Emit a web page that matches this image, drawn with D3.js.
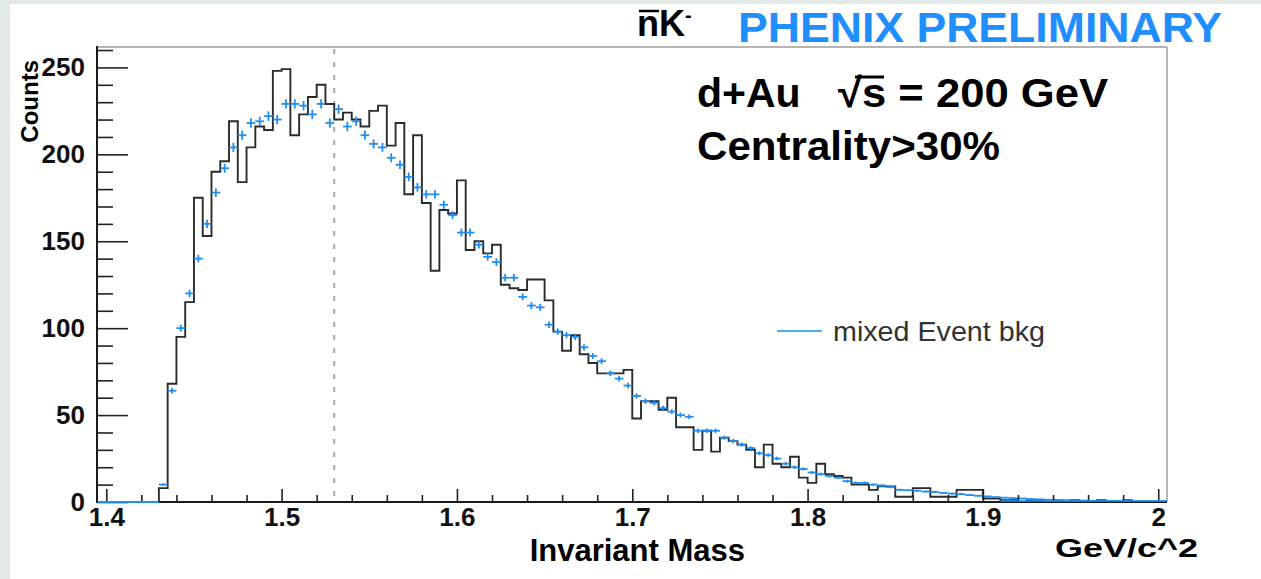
<!DOCTYPE html>
<html>
<head>
<meta charset="utf-8">
<script src="https://cdn.jsdelivr.net/npm/d3@7"></script>
<style>
  html, body { margin: 0; padding: 0; background: #fff; }
  svg { display: block; }
  text { font-family: "Liberation Sans", Arial, Helvetica, sans-serif; }
</style>
</head>
<body>
<script>
let width = 1261;
let height = 579;
let frame = {left: 97, right: 1167, top: 47, bottom: 502};

// histogram bins: 0.005 wide, first bin starts at 1.395
let binStart = 1.395;
let binWidth = 0.005;

// same-event counts (black histogram)
let signal = [
  0, 0, 0, 0, 0, 0, 0,
  8, 68, 95, 115, 175, 153, 190, 196, 219, 184,
  204, 216, 214, 248, 249, 211, 223, 233, 240, 229,
  220, 224, 220, 216, 225, 228, 205, 218, 177, 211,
  172, 133, 168, 166, 185, 145, 150, 143, 148, 125,
  123, 122, 128, 128, 116, 98, 87, 96, 85, 80,
  74, 74, 74, 76, 48, 58, 58, 53, 60, 43,
  43, 30, 41, 29, 37, 35, 33, 30, 20, 33,
  22, 20, 26, 14, 11, 22, 16, 15, 14, 10,
  10, 7, 9, 9, 3, 3, 8, 8, 3, 3,
  3, 7, 7, 7, 2, 2, 1, 1, 0, 1,
  1, 0, 1, 0, 1, 0, 0, 1, 0, 0,
  1, 0, 0, 0, 0
];

// mixed event background (blue points) and its errors
let bkg = [
  0, 0, 0, 0, 0, 0, 0,
  10, 64, 100, 120, 140, 160, 178, 192, 204, 211,
  218, 219, 222, 220, 229, 229, 228, 223, 229, 218,
  226, 216, 219, 211, 206, 204, 198, 194, 187, 181,
  177, 177, 171, 165, 155, 155, 148, 141, 138, 129,
  129, 118, 113, 112, 102, 98, 96, 95, 89, 84,
  81, 74, 71, 67, 61, 58, 57, 54, 52, 50,
  49, 41, 41, 41, 37, 35, 33, 31, 28, 27,
  25, 22, 20, 19, 17, 16, 15, 14, 12, 11,
  11, 10, 9.5, 8.6, 7, 6.8, 6.5, 6, 5.8, 5.2,
  4.8, 4.5, 4, 3.6, 3.2, 2.8, 2.5, 2.2, 2, 1.7,
  1.5, 1.3, 1.2, 1.0, 0.9, 0.8, 0.7, 0.6, 0.6, 0.5,
  0.5, 0.4, 0.4, 0.3, 0.3
];
let bkgErr = [
  0, 0, 0, 0, 0, 0, 0,
  0.7, 1.6, 2, 2.1, 2.2, 2.4, 2.5, 2.6, 2.6, 2.7,
  2.7, 2.7, 2.7, 2.7, 2.7, 2.7, 2.7, 2.7, 2.7, 2.7,
  2.7, 2.7, 2.7, 2.6, 2.6, 2.6, 2.6, 2.5, 2.5, 2.5,
  2.4, 2.4, 2.4, 2.3, 2.3, 2.3, 2.2, 2.2, 2.2, 2.1,
  2.1, 2, 2, 2, 1.9, 1.9, 1.8, 1.8, 1.8, 1.7,
  1.7, 1.6, 1.6, 1.6, 1.5, 1.5, 1.5, 1.4, 1.4, 1.4,
  1.4, 1.3, 1.3, 1.3, 1.2, 1.2, 1.2, 1.1, 1.1, 1.1,
  1, 1, 1, 0.9, 0.9, 0.9, 0.9, 0.8, 0.8, 0.8,
  0.8, 0.7, 0.7, 0.7, 0.6, 0.6, 0.6, 0.6, 0.6, 0.5,
  0.5, 0.5, 0.5, 0.4, 0.4, 0.4, 0.4, 0.3, 0.3, 0.3,
  0.3, 0.3, 0.3, 0.2, 0.2, 0.2, 0.2, 0.2, 0.2, 0.2,
  0.2, 0.1, 0.1, 0.1, 0.1
];

let xTicks = [1.4, 1.5, 1.6, 1.7, 1.8, 1.9, 2.0];
let xTickLabels = ["1.4", "1.5", "1.6", "1.7", "1.8", "1.9", "2"];
let yTicks = [0, 50, 100, 150, 200, 250];
let peakMass = 1.53;

let svg = d3.select("body").append("svg")
    .attr("width", width)
    .attr("height", height);

// grey page border seen on the left and top
svg.append("rect").attr("width", width).attr("height", height).attr("fill", "#e3e9e7");
svg.append("rect").attr("x", 10).attr("y", 4).attr("width", width - 10).attr("height", height - 4).attr("fill", "#fff");

let x = d3.scaleLinear().domain([1.3947, 2.005]).range([frame.left, frame.right]);
let y = d3.scaleLinear().domain([0, 261.75]).range([frame.bottom, frame.top]);

// frame: top/right light, axes dark
svg.append("line").attr("x1", frame.left).attr("x2", frame.right).attr("y1", frame.top).attr("y2", frame.top)
    .style("stroke", "#b5b5b5").style("stroke-width", 2);
svg.append("line").attr("x1", frame.right).attr("x2", frame.right).attr("y1", frame.top).attr("y2", frame.bottom)
    .style("stroke", "#a0a0a0").style("stroke-width", 1.5);

// dashed line at the peak position
svg.append("line")
    .attr("x1", x(peakMass)).attr("x2", x(peakMass))
    .attr("y1", frame.top + 2).attr("y2", frame.bottom)
    .style("stroke", "#a8a8a8").style("stroke-width", 2)
    .style("stroke-dasharray", "5,8");

// black histogram outline
let histPts = [[binStart, 0]];
signal.forEach(function(v, i) {
    histPts.push([binStart + i * binWidth, v]);
});
let lastEdge = binStart + signal.length * binWidth;
histPts.push([lastEdge, signal[signal.length - 1]]);
histPts.push([lastEdge, 0]);

let histLine = d3.line()
    .x(d => x(d[0]))
    .y(d => y(d[1]))
    .curve(d3.curveStepAfter);

svg.append("path")
    .datum(histPts)
    .attr("d", histLine)
    .style("fill", "none")
    .style("stroke", "#2b2b2b")
    .style("stroke-width", 1.9);

// mixed event points with error bars
let bkgG = svg.append("g").attr("class", "bkg")
    .style("stroke", "#1f8ef2").style("stroke-width", 1.8);
bkg.forEach(function(v, i) {
    let lo = binStart + i * binWidth;
    let mid = lo + binWidth / 2;
    bkgG.append("line")
        .attr("x1", x(lo)).attr("x2", x(lo + binWidth))
        .attr("y1", y(v)).attr("y2", y(v));
    if (bkgErr[i] > 0) {
        bkgG.append("line")
            .attr("x1", x(mid)).attr("x2", x(mid))
            .attr("y1", y(v - bkgErr[i])).attr("y2", y(v + bkgErr[i]));
    }
});

// y axis (ticks point inward)
let yAxis = svg.append("g")
    .attr("transform", "translate(" + frame.left + ",0)")
    .call(d3.axisLeft(y).tickValues(yTicks).tickSizeInner(-31).tickSizeOuter(0).tickPadding(12).tickFormat(d3.format("d")));
let yMinor = d3.range(10, 261, 10).filter(v => v % 50 !== 0);
svg.append("g")
    .attr("transform", "translate(" + frame.left + ",0)")
    .call(d3.axisLeft(y).tickValues(yMinor).tickSizeInner(-16).tickSizeOuter(0).tickFormat(""))
    .select(".domain").remove();

// x axis
let xAxis = svg.append("g")
    .attr("transform", "translate(0," + frame.bottom + ")")
    .call(d3.axisBottom(x).tickValues(xTicks).tickSizeInner(-13).tickSizeOuter(0).tickPadding(6)
        .tickFormat((d, i) => xTickLabels[i]));
let xMinor = d3.range(140, 201, 2).filter(v => v % 10 !== 0).map(v => v / 100);
svg.append("g")
    .attr("transform", "translate(0," + frame.bottom + ")")
    .call(d3.axisBottom(x).tickValues(xMinor).tickSizeInner(-7).tickSizeOuter(0).tickFormat(""))
    .select(".domain").remove();

svg.selectAll(".tick line").style("stroke", "#222").style("stroke-width", 1.6);
yAxis.select(".domain").remove();
xAxis.select(".domain").remove();
svg.selectAll(".tick text")
    .style("font-family", "'Liberation Sans', Arial, sans-serif")
    .style("font-size", "26px")
    .style("font-weight", "bold")
    .style("fill", "#111");

svg.append("line").attr("x1", frame.left).attr("x2", frame.left).attr("y1", frame.top - 1).attr("y2", frame.bottom + 1)
    .style("stroke", "#1a1a1a").style("stroke-width", 2);
svg.append("line").attr("x1", frame.left).attr("x2", frame.right).attr("y1", frame.bottom).attr("y2", frame.bottom)
    .style("stroke", "#1a1a1a").style("stroke-width", 2);
// blue zero-level bars over the axis line
svg.append("line").attr("x1", x(binStart)).attr("x2", x(binStart + 7 * binWidth)).attr("y1", frame.bottom).attr("y2", frame.bottom)
    .style("stroke", "#1f8ef2").style("stroke-width", 2);
svg.append("line").attr("x1", x(1.91)).attr("x2", frame.right).attr("y1", frame.bottom - 1).attr("y2", frame.bottom - 1)
    .style("stroke", "#1f8ef2").style("stroke-width", 1.6);

// axis titles
svg.append("text")
    .attr("transform", "translate(38,60) rotate(-90)")
    .attr("text-anchor", "end")
    .style("font-size", "24px").style("font-weight", "bold")
    .text("Counts");

svg.append("text")
    .attr("x", 745).attr("y", 561)
    .attr("text-anchor", "end")
    .style("font-size", "31px").style("font-weight", "bold")
    .text("Invariant Mass");

svg.append("text")
    .attr("x", 1055).attr("y", 557)
    .attr("textLength", 143).attr("lengthAdjust", "spacingAndGlyphs")
    .style("font-size", "26px").style("font-weight", "bold")
    .text("GeV/c^2");

// title: nbar K-
let title = svg.append("text")
    .attr("x", 637).attr("y", 36)
    .style("font-size", "36px").style("font-weight", "bold");
title.append("tspan").text("nK");
title.append("tspan").attr("dy", -14).style("font-size", "20px").text("-");
svg.append("line").attr("x1", 639).attr("x2", 659).attr("y1", 11).attr("y2", 11)
    .style("stroke", "#000").style("stroke-width", 2.5);

svg.append("text")
    .attr("x", 738).attr("y", 42)
    .attr("textLength", 484).attr("lengthAdjust", "spacingAndGlyphs")
    .style("font-size", "43px").style("font-weight", "bold")
    .style("fill", "#1f8fff")
    .text("PHENIX PRELIMINARY");

// collision system and centrality
svg.append("text")
    .attr("x", 697).attr("y", 107)
    .style("font-size", "41px").style("font-weight", "bold")
    .text("d+Au");
svg.append("text")
    .attr("x", 838).attr("y", 107)
    .attr("textLength", 270).attr("lengthAdjust", "spacingAndGlyphs")
    .style("font-size", "41px").style("font-weight", "bold")
    .text("\u221As = 200 GeV");
svg.append("line").attr("x1", 855).attr("x2", 884).attr("y1", 77).attr("y2", 77)
    .style("stroke", "#000").style("stroke-width", 3);

svg.append("text")
    .attr("x", 697).attr("y", 160)
    .attr("textLength", 303).attr("lengthAdjust", "spacingAndGlyphs")
    .style("font-size", "41px").style("font-weight", "bold")
    .text("Centrality>30%");

// legend
svg.append("line").attr("x1", 777).attr("x2", 822).attr("y1", 331).attr("y2", 331)
    .style("stroke", "#4aaef0").style("stroke-width", 2);
svg.append("text")
    .attr("x", 833).attr("y", 341)
    .attr("textLength", 212).attr("lengthAdjust", "spacingAndGlyphs")
    .style("font-size", "28px")
    .style("fill", "#333")
    .text("mixed Event bkg");
</script>
</body>
</html>
